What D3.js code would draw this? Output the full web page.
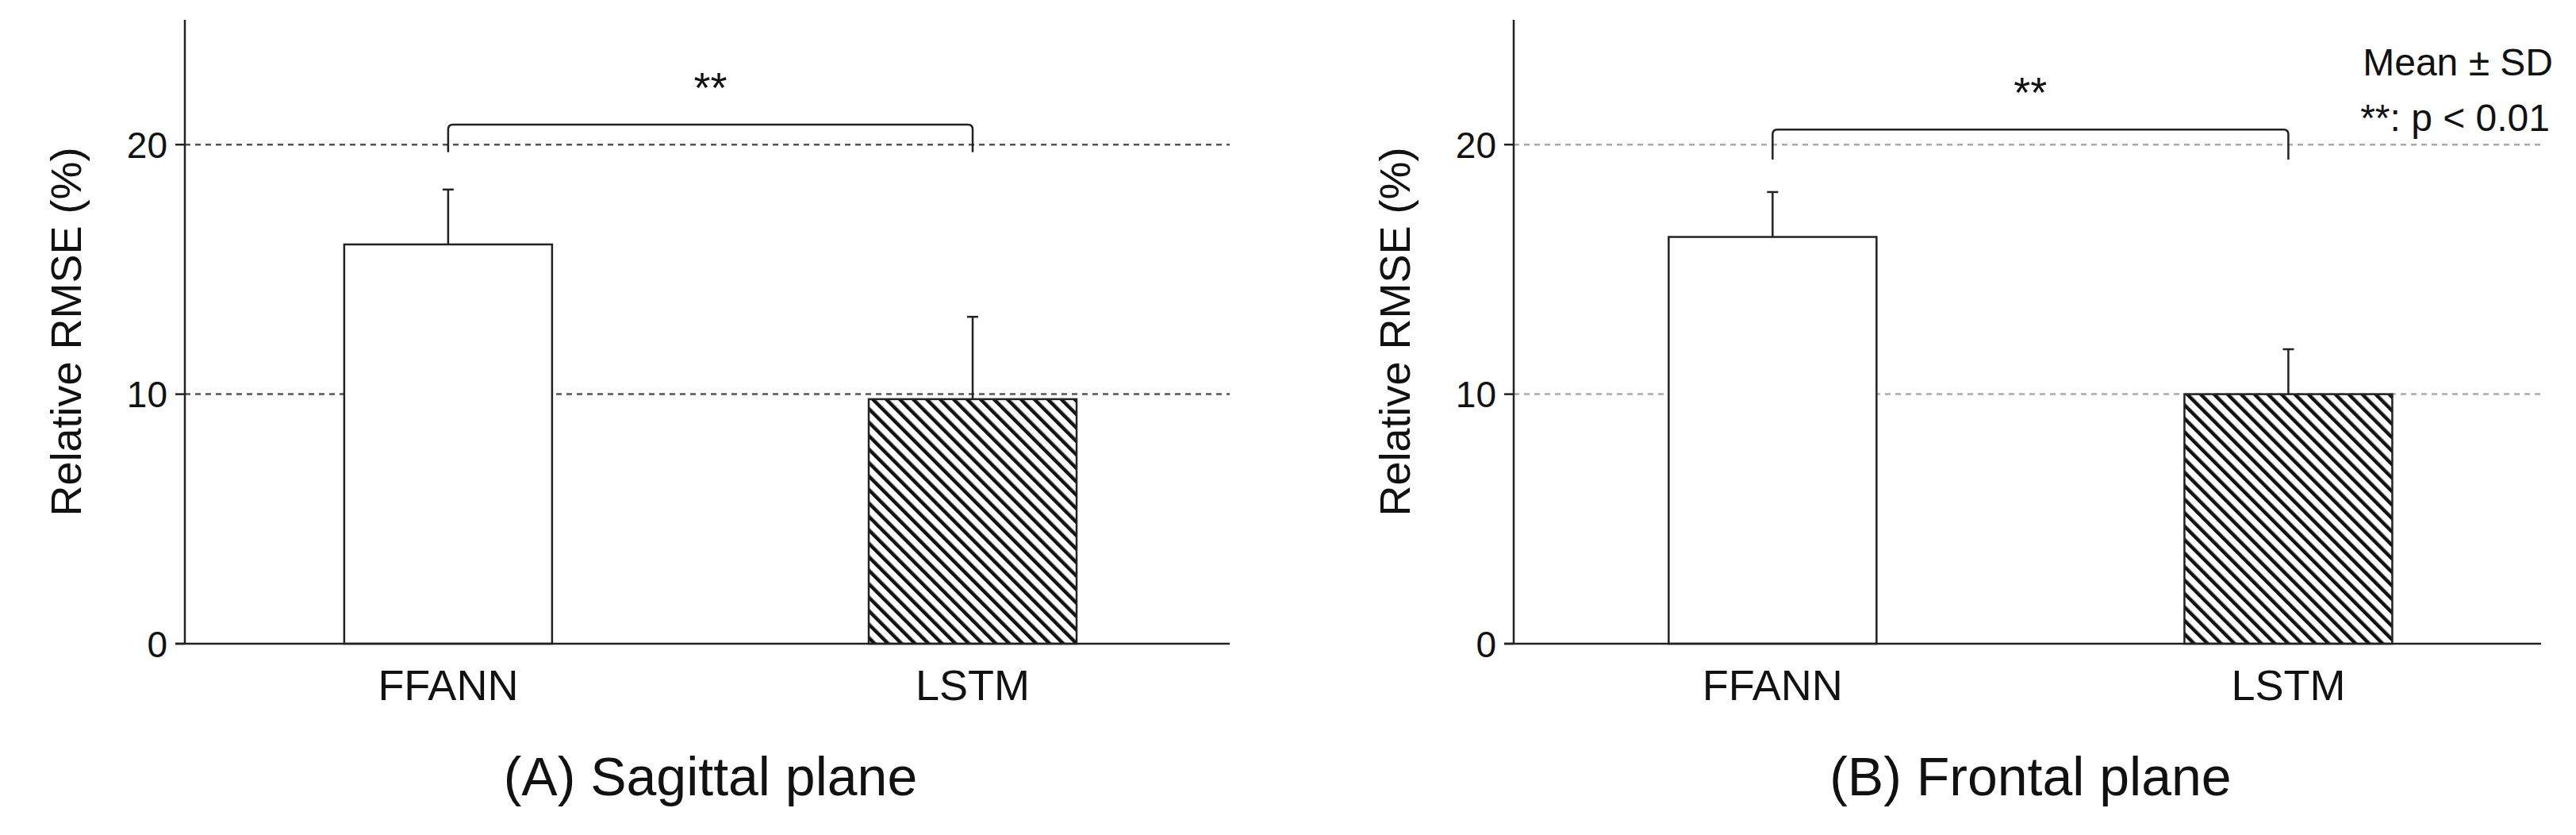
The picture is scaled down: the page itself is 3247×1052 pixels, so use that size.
<!DOCTYPE html>
<html><head><meta charset="utf-8">
<script src="https://cdn.jsdelivr.net/npm/d3@7"></script>
<style>body{margin:0;background:#fff}svg{display:block}text{font-family:"Liberation Sans Narrow","Liberation Sans",Arial,sans-serif}</style>
</head><body>
<script>
const categories = ['FFANN', 'LSTM'];
const panels = ['(A) Sagittal plane', '(B) Frontal plane'];
const means = [[16.0, 9.8], [16.3, 10.0]];
const sds = [[2.2, 3.3], [1.8, 1.8]];
const yTicks = [0, 10, 20];
const bracketY = [20.8, 20.6];
const bracketLeg = [19.7, 19.4];
const gridColor = ['#555', '#aaa'];

const W = 3247, H = 1052;
const svg = d3.select('body').append('svg').attr('width', W).attr('height', H);
const defs = svg.append('defs');
const pat = defs.append('pattern').attr('id', 'hatch').attr('patternUnits', 'userSpaceOnUse')
  .attr('width', 12).attr('height', 12).attr('patternTransform', 'rotate(-45)');
pat.append('rect').attr('width', 12).attr('height', 12).attr('fill', '#fff');
pat.append('rect').attr('x', 0).attr('width', 4.5).attr('height', 12).attr('fill', '#111');

const panelX = [{x0: 233, x1: 1550}, {x0: 1908, x1: 3203}];
const y = d3.scaleLinear().domain([0, 25]).range([811, 25]);

panelX.forEach((p, i) => {
  const g = svg.append('g');
  const x = d3.scalePoint().domain(categories).range([p.x0 + (p.x1 - p.x0) * 0.252, p.x0 + (p.x1 - p.x0) * 0.754]);
  const bw = 262;

  // grid
  g.selectAll('.grid').data(yTicks.filter(d => d > 0)).join('line')
    .attr('x1', p.x0).attr('x2', p.x1).attr('y1', d => y(d)).attr('y2', d => y(d))
    .attr('stroke', gridColor[i]).attr('stroke-width', 2.5).attr('stroke-dasharray', '7,6');

  // error bars
  categories.forEach((c, j) => {
    const m = means[i][j], s = sds[i][j];
    g.append('line').attr('x1', x(c)).attr('x2', x(c)).attr('y1', y(m)).attr('y2', y(m + s))
      .attr('stroke', '#222').attr('stroke-width', 2.5);
    g.append('line').attr('x1', x(c) - 7).attr('x2', x(c) + 7).attr('y1', y(m + s)).attr('y2', y(m + s))
      .attr('stroke', '#222').attr('stroke-width', 2.5);
  });

  // bars
  g.selectAll('.bar').data(categories).join('rect')
    .attr('x', c => x(c) - bw / 2).attr('width', bw)
    .attr('y', (c, j) => y(means[i][j])).attr('height', (c, j) => y(0) - y(means[i][j]))
    .attr('fill', (c, j) => j === 0 ? '#fff' : 'url(#hatch)')
    .attr('stroke', '#222').attr('stroke-width', 2.5);

  // axes
  g.append('line').attr('x1', p.x0).attr('x2', p.x0).attr('y1', y(25)).attr('y2', y(0)).attr('stroke', '#222').attr('stroke-width', 2.5);
  g.append('line').attr('x1', p.x0 - 12).attr('x2', p.x1).attr('y1', y(0)).attr('y2', y(0)).attr('stroke', '#222').attr('stroke-width', 2.5);
  g.selectAll('.tk').data(yTicks).join('line')
    .attr('x1', p.x0 - 12).attr('x2', p.x0).attr('y1', d => y(d)).attr('y2', d => y(d)).attr('stroke', '#222').attr('stroke-width', 2.5);
  g.selectAll('.tl').data(yTicks).join('text')
    .attr('x', p.x0 - 22).attr('y', d => y(d)).attr('dy', '0.36em').attr('text-anchor', 'end')
    .attr('font-size', 46).attr('fill', '#111').text(d => d);
  g.selectAll('.xl').data(categories).join('text')
    .attr('x', c => x(c)).attr('y', 882).attr('text-anchor', 'middle')
    .attr('font-size', 54).attr('fill', '#111').text(c => c);
  g.append('text').attr('transform', `translate(${p.x0 - 150},${y(12.5)}) rotate(-90)`)
    .attr('text-anchor', 'middle').attr('dy', '0.36em').attr('font-size', 54).attr('fill', '#111')
    .style('font-family', '"Liberation Sans", Arial, sans-serif').text('Relative RMSE (%)');
  g.append('text').attr('x', x(categories[0]) / 2 + x(categories[1]) / 2).attr('y', 1002)
    .attr('text-anchor', 'middle').attr('font-size', 68).attr('fill', '#111').text(panels[i]);

  // significance bracket
  const bx0 = x(categories[0]), bx1 = x(categories[1]);
  g.append('path').attr('fill', 'none').attr('stroke', '#222').attr('stroke-width', 2.5)
    .attr('d', `M${bx0},${y(bracketLeg[i])}L${bx0},${y(bracketY[i]) + 6}Q${bx0},${y(bracketY[i])} ${bx0 + 6},${y(bracketY[i])}L${bx1 - 6},${y(bracketY[i])}Q${bx1},${y(bracketY[i])} ${bx1},${y(bracketY[i]) + 6}L${bx1},${y(bracketLeg[i])}`);
  g.append('text').attr('x', (bx0 + bx1) / 2).attr('y', y(bracketY[i]) - 28).attr('text-anchor', 'middle')
    .attr('font-size', 54).attr('fill', '#111').text('**');
});

svg.append('text').attr('x', 3218).attr('y', 95).attr('text-anchor', 'end').attr('font-size', 48)
  .style('font-family', '"Liberation Sans", Arial, sans-serif').attr('fill', '#111').text('Mean ± SD');
svg.append('text').attr('x', 3214).attr('y', 165).attr('text-anchor', 'end').attr('font-size', 48)
  .style('font-family', '"Liberation Sans", Arial, sans-serif').attr('fill', '#111').text('**: p < 0.01');
</script>
</body></html>
